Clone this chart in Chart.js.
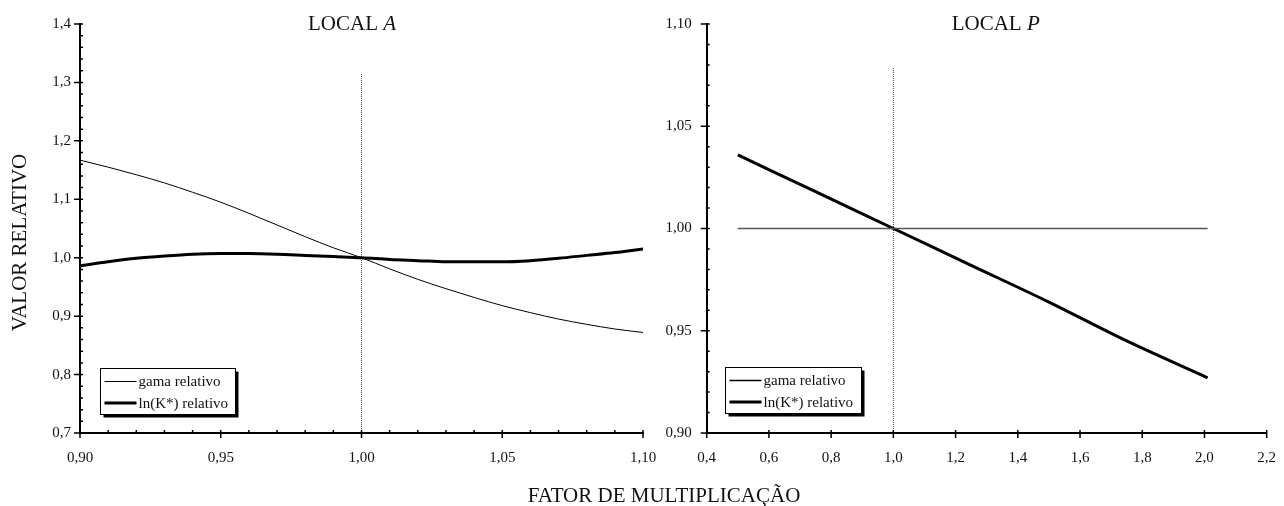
<!DOCTYPE html>
<html lang="pt">
<head>
  <meta charset="UTF-8" />
  <title>Valor relativo</title>
  <script src="https://cdn.jsdelivr.net/npm/chart.js"></script>
  <style>
    body { margin: 0; background: #fff; }
    #wrap { position: relative; width: 1284px; height: 506px; }
    #chartA { position: absolute; left: 0; top: 0; }
    #chartP { position: absolute; left: 660px; top: 0; }
    #xtitle {
      position: absolute; left: 364px; width: 600px; top: 485px;
      text-align: center; font: 21px/21px "Liberation Serif", serif; color: #111;
    }
  </style>
</head>
<body>
  <div id="wrap">
    <canvas id="chartA" width="660" height="506"></canvas>
    <canvas id="chartP" width="624" height="506"></canvas>
    <div id="xtitle">FATOR DE MULTIPLICAÇÃO</div>
  </div>

  <script>
    // LOCAL A
    const factorA = [0.90, 0.91, 0.92, 0.93, 0.94, 0.95, 0.96, 0.97, 0.98, 0.99, 1.00,
                     1.01, 1.02, 1.03, 1.04, 1.05, 1.06, 1.07, 1.08, 1.09, 1.10];
    const gamaA = [1.167, 1.155, 1.142, 1.128, 1.112, 1.095, 1.076, 1.056, 1.036, 1.017, 1.000,
                   0.981, 0.963, 0.947, 0.932, 0.918, 0.906, 0.895, 0.886, 0.878, 0.872];
    const lnKA = [0.986, 0.993, 0.999, 1.003, 1.006, 1.007, 1.007, 1.006, 1.004, 1.002, 1.000,
                  0.997, 0.995, 0.993, 0.993, 0.993, 0.995, 0.999, 1.004, 1.009, 1.015];
    const refLineA = [0.70, 1.316];
    const xTicksA = [0.90, 0.95, 1.00, 1.05, 1.10];
    const yTicksA = [0.7, 0.8, 0.9, 1.0, 1.1, 1.2, 1.3, 1.4];

    // LOCAL P
    const factorP = [0.50, 0.75, 1.00, 1.25, 1.50, 1.75, 2.01];
    const gamaP = [1.000, 1.000, 1.000, 1.000, 1.000, 1.000, 1.000];
    const lnKP = [1.036, 1.018, 1.000, 0.982, 0.964, 0.945, 0.927];
    const refLineP = [0.90, 1.079];
    const xTicksP = [0.4, 0.6, 0.8, 1.0, 1.2, 1.4, 1.6, 1.8, 2.0, 2.2];
    const yTicksP = [0.90, 0.95, 1.00, 1.05, 1.10];

    const SERIF = '"Liberation Serif", "Times New Roman", serif';
    Chart.defaults.font.family = SERIF;
    Chart.defaults.color = '#111';

    const pairs = (xs, ys) => xs.map((x, i) => ({ x, y: ys[i] }));
    const comma = dec => v => Number(v).toFixed(dec).replace('.', ',');

    // axis ticks, title and boxed legend with shadow
    const panelPlugin = {
      id: 'panel',
      afterDraw(chart, args, o) {
        const { ctx, chartArea: a, scales: { x, y } } = chart;
        ctx.save();
        ctx.strokeStyle = '#000';
        ctx.lineWidth = 1.5;
        ctx.beginPath();
        const minor = (scale, step, fn) => {
          if (!step) return;
          const n = Math.round((scale.max - scale.min) / step);
          for (let k = 0; k <= n; k++) fn(scale.getPixelForValue(scale.min + k * step));
        };
        minor(y, o.minorY, py => { ctx.moveTo(a.left, py); ctx.lineTo(a.left + 3, py); });
        minor(x, o.minorX, px => { ctx.moveTo(px, a.bottom); ctx.lineTo(px, a.bottom - 3); });
        y.ticks.forEach(t => {
          const py = y.getPixelForValue(t.value);
          ctx.moveTo(a.left - 6, py); ctx.lineTo(a.left + 3, py);
        });
        x.ticks.forEach(t => {
          const px = x.getPixelForValue(t.value);
          ctx.moveTo(px, a.bottom - 3); ctx.lineTo(px, a.bottom + 5);
        });
        ctx.stroke();

        // panel title
        ctx.fillStyle = '#111';
        ctx.textBaseline = 'alphabetic';
        ctx.textAlign = 'left';
        ctx.font = '21px ' + SERIF;
        const tx = a.left + o.titleX;
        ctx.fillText('LOCAL ', tx, 30);
        const w = ctx.measureText('LOCAL ').width;
        ctx.font = 'italic 21px ' + SERIF;
        ctx.fillText(o.site, tx + w, 30);

        if (o.yTitle) {
          ctx.save();
          ctx.translate(25.5, 242.5);
          ctx.rotate(-Math.PI / 2);
          ctx.textAlign = 'center';
          ctx.font = '21px ' + SERIF;
          ctx.fillText(o.yTitle, 0, 0);
          ctx.restore();
        }

        // legend
        const bx = Math.round(a.left + o.legendX) + 0.5, by = o.legendY + 0.5;
        const bw = o.legendW, bh = 46;
        ctx.fillStyle = '#000';
        ctx.fillRect(bx + 3, by + 3, bw, bh);
        ctx.fillStyle = '#fff';
        ctx.fillRect(bx, by, bw, bh);
        ctx.lineWidth = 1;
        ctx.strokeRect(bx, by, bw, bh);
        ctx.font = '15px ' + SERIF;
        ctx.textBaseline = 'middle';
        chart.data.datasets.filter(d => d.label).forEach((d, i) => {
          const ly = by + 13 + i * 21.5;
          ctx.strokeStyle = '#000';
          ctx.lineWidth = d.borderWidth;
          ctx.beginPath();
          ctx.moveTo(bx + 4, ly);
          ctx.lineTo(bx + 36, ly);
          ctx.stroke();
          ctx.fillStyle = '#111';
          ctx.fillText(d.label, bx + 38, ly + 1);
        });
        ctx.restore();
      }
    };

    function axis(ticks, dec, opts) {
      return Object.assign({
        type: 'linear',
        min: ticks[0],
        max: ticks[ticks.length - 1],
        grid: { display: false, drawTicks: false },
        border: { display: true, color: '#000', width: 2 },
        ticks: { color: '#111', font: { size: 15 }, callback: comma(dec), autoSkip: false, maxRotation: 0 },
        afterBuildTicks: s => { s.ticks = ticks.map(v => ({ value: v })); }
      }, opts);
    }

    function makePanel(id, p) {
      return new Chart(document.getElementById(id), {
        type: 'scatter',
        data: {
          datasets: [
            { label: 'gama relativo', data: pairs(p.xs, p.gama), borderColor: p.gamaColor,
              borderWidth: p.gamaWidth, showLine: true, pointRadius: 0, cubicInterpolationMode: 'monotone' },
            { label: 'ln(K*) relativo', data: pairs(p.xs, p.lnK), borderColor: '#000',
              borderWidth: 3, showLine: true, pointRadius: 0, cubicInterpolationMode: 'monotone' },
            { label: '', data: pairs([1, 1], p.ref), borderColor: '#444', borderWidth: 1,
              borderDash: [1, 1], showLine: true, pointRadius: 0 }
          ]
        },
        options: {
          responsive: false,
          animation: false,
          layout: { padding: { left: 0, top: 24, right: p.padRight, bottom: 0 } },
          plugins: {
            legend: { display: false },
            tooltip: { enabled: false },
            panel: p.panel
          },
          scales: {
            x: axis(p.xTicks, p.xDec, {
              ticks: { color: '#111', font: { size: 15 }, padding: 16, callback: comma(p.xDec), autoSkip: false, maxRotation: 0 },
              afterFit: s => { s.height = 73; s.paddingLeft = 0; s.paddingRight = 0; }
            }),
            y: axis(p.yTicks, p.yDec, {
              ticks: { color: '#111', font: { size: 15 }, padding: p.yPad, callback: comma(p.yDec), autoSkip: false },
              afterFit: s => { s.width = p.yWidth; s.paddingTop = 0; s.paddingBottom = 0; }
            })
          }
        },
        plugins: [panelPlugin]
      });
    }

    makePanel('chartA', {
      xs: factorA, gama: gamaA, lnK: lnKA, ref: refLineA, gamaColor: '#000', gamaWidth: 1,
      xTicks: xTicksA, yTicks: yTicksA, xDec: 2, yDec: 1,
      yWidth: 80, yPad: 9, padRight: 17,
      panel: { minorX: 0.01, minorY: 0.02, site: 'A', titleX: 228, yTitle: 'VALOR RELATIVO',
               legendX: 20, legendY: 368, legendW: 135 }
    });

    makePanel('chartP', {
      xs: factorP, gama: gamaP, lnK: lnKP, ref: refLineP, gamaColor: '#555', gamaWidth: 1.5,
      xTicks: xTicksP, yTicks: yTicksP, xDec: 1, yDec: 2,
      yWidth: 46.7, yPad: 15, padRight: 17.3,
      panel: { minorX: 0, minorY: 0.01, site: 'P', titleX: 245,
               legendX: 18.3, legendY: 367, legendW: 136 }
    });
  </script>
</body>
</html>
